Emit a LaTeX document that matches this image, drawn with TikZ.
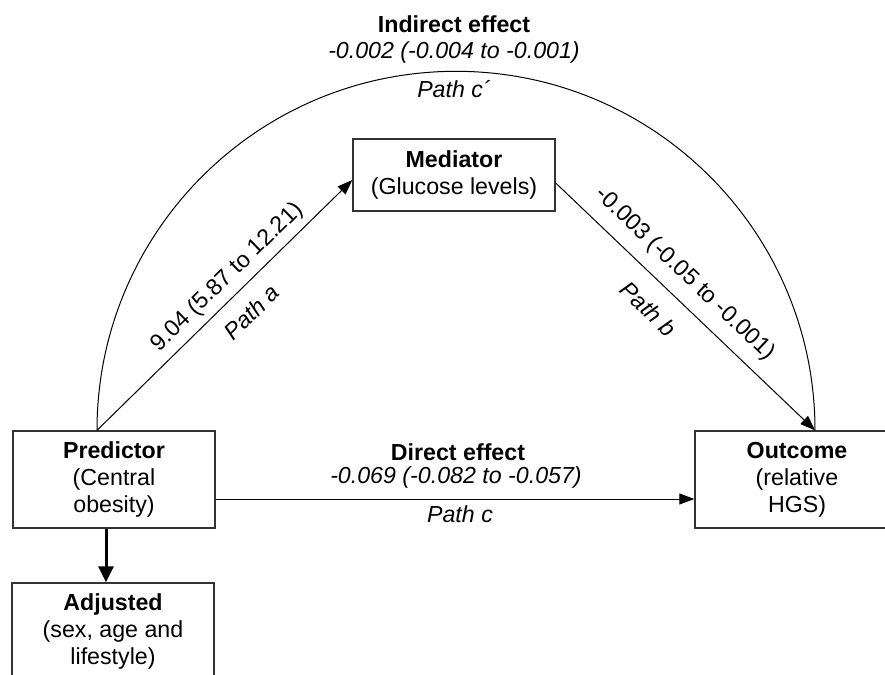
\documentclass[tikz,border=0pt]{standalone}
\usepackage{fontspec}
\setmainfont{Liberation Sans}
\usetikzlibrary{arrows.meta}

\begin{document}
\begin{tikzpicture}[x=0.5pt,y=-0.5pt,
    font=\fontsize{11.6}{13.5}\selectfont,
    line width=0.5pt,
    box/.style={draw=black!80, line width=0.7pt, align=center, inner sep=0pt,
      minimum width=101pt, minimum height=48.5pt,
      execute at begin node=\rule{0pt}{11.8pt}},
    arr/.style={-{Triangle[length=7.5pt,width=5.5pt]}},
    bigarr/.style={line width=1.5pt, -{Triangle[length=8pt,width=7.5pt]}},
    lbl/.style={font=\fontsize{11.6}{13.5}\selectfont\itshape}]
    \useasboundingbox (0,0) rectangle (885,675);
    \clip (0,0) rectangle (885,675);
    % boxes
    \node[box] (pred) at (114,479.5) {\textbf{Predictor}\\(Central\\obesity)};
    \node[box, minimum height=36pt] (med) at (454,175) {\textbf{Mediator}\\(Glucose levels)};
    \node[box, minimum width=102pt] (out) at (797,479.5) {\textbf{Outcome}\\(relative\\HGS)};
    \node[box] (adj) at (113,631.5) {\textbf{Adjusted}\\(sex, age and\\lifestyle)};
    % indirect effect
    \draw ([xshift=-8.5pt]pred.north) arc[start angle=180, end angle=360, radius=359];
    \node[anchor=base] (ind) at (454,32) {\textbf{Indirect effect}};
    \node[anchor=base, lbl] (indval) at (454,58) {-0.002 (-0.004 to -0.001)};
    \node[anchor=base, lbl] (pathcp) at (454,97) {Path c´};
    % paths a and b
    \draw[arr] ([xshift=-8.5pt]pred.north) -- ([yshift=-2.5pt]med.west)
      node[pos=0.56, sloped, above] (aval) {9.04 (5.87 to 12.21)}
      node[pos=0.54, sloped, below=4pt, lbl] (patha) {Path a};
    \draw[arr] ([yshift=-4pt]med.east) -- ([xshift=9pt]out.north)
      node[pos=0.436, sloped, above=2.7pt] (bval) {-0.003 (-0.05 to -0.001)}
      node[pos=0.43, sloped, below=5.6pt, lbl] (pathb) {Path b};
    % direct effect
    \draw[arr] ([yshift=-9.75pt]pred.east) -- ([yshift=-9.75pt]out.west);
    \node[anchor=base] (dir) at (458,460) {\textbf{Direct effect}};
    \node[anchor=base, lbl] (dirval) at (456,483) {-0.069 (-0.082 to -0.057)};
    \node[anchor=base, lbl] (pathc) at (460,522) {Path c};
    % adjustment
    \draw[bigarr] ([xshift=-4pt]pred.south) -- ([xshift=-4pt]pred.south |- adj.north);
\end{tikzpicture}
\end{document}
